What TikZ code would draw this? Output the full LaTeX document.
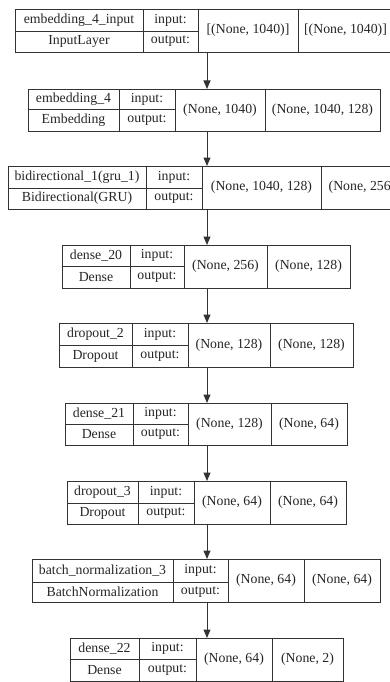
\documentclass[tikz,border=0pt]{standalone}
\usepackage{fontspec}
\setmainfont{Liberation Serif}
\usetikzlibrary{arrows.meta}

\begin{document}
\begin{tikzpicture}[x=1pt, y=-1pt,
  cell/.style={draw=black!80, line width=0.9pt, inner sep=0pt, outer sep=0pt,
    text=black!85, font=\fontsize{13.8}{16}\selectfont},
  record/.style={inner sep=0pt, outer sep=0pt},
  flow/.style={draw=black!80, line width=1pt,
    -{Triangle[length=8.5pt, width=7pt]}}
]
\clip (0,0) rectangle (390,682);
\fill[white] (0,0) rectangle (390,682);

% each layer: name / top / middle / bottom / five x edges / name / class / in shape / out shape
\foreach \n/\yt/\ym/\yb/\xa/\xb/\xc/\xd/\xe/\ta/\tb/\tc/\td in {
  L1/9/31/52/15/143/198/298/393/{embedding\_4\_input}/{InputLayer}/{[(None, 1040)]}/{[(None, 1040)]},
  L2/89/109/131/28/119/175/265/380/{embedding\_4}/{Embedding}/{(None, 1040)}/{(None, 1040, 128)},
  L3/166/188/209/8/146/202/321/403/{bidirectional\_1(gru\_1)}/{Bidirectional(GRU)}/{(None, 1040, 128)}/{(None, 256)},
  L4/245/266/288/62/130/184/267/350/{dense\_20}/{Dense}/{(None, 256)}/{(None, 128)},
  L5/323/345/367/59/132/188/270/353/{dropout\_2}/{Dropout}/{(None, 128)}/{(None, 128)},
  L6/403/424/445/65/133/188/271/347/{dense\_21}/{Dense}/{(None, 128)}/{(None, 64)},
  L7/481/503/524/67/138/194/270/346/{dropout\_3}/{Dropout}/{(None, 64)}/{(None, 64)},
  L8/559/582/602/32/173/228/304/380/{batch\_normalization\_3}/{BatchNormalization}/{(None, 64)}/{(None, 64)},
  L9/638/659/681/70/139/196/272/343/{dense\_22}/{Dense}/{(None, 64)}/{(None, 2)}%
}{
  % whole record, used as the anchor for the connectors
  \node[record, minimum width={(\xe-\xa)*1pt}, minimum height={(\yb-\yt)*1pt}]
    (\n) at ({(\xa+\xe)/2},{(\yt+\yb)/2}) {};
  % layer name and class
  \node[cell, minimum width={(\xb-\xa)*1pt}, minimum height={(\ym-\yt)*1pt}]
    (\n-name) at ({(\xa+\xb)/2},{(\yt+\ym)/2}) {\ta};
  \node[cell, minimum width={(\xb-\xa)*1pt}, minimum height={(\yb-\ym)*1pt}]
    (\n-class) at ({(\xa+\xb)/2},{(\ym+\yb)/2}) {\tb};
  % port labels
  \node[cell, minimum width={(\xc-\xb)*1pt}, minimum height={(\ym-\yt)*1pt}]
    (\n-inlbl) at ({(\xb+\xc)/2},{(\yt+\ym)/2}) {input:};
  \node[cell, minimum width={(\xc-\xb)*1pt}, minimum height={(\yb-\ym)*1pt}]
    (\n-outlbl) at ({(\xb+\xc)/2},{(\ym+\yb)/2}) {output:};
  % shapes
  \node[cell, minimum width={(\xd-\xc)*1pt}, minimum height={(\yb-\yt)*1pt}]
    (\n-in) at ({(\xc+\xd)/2},{(\yt+\yb)/2}) {\tc};
  \node[cell, minimum width={(\xe-\xd)*1pt}, minimum height={(\yb-\yt)*1pt}]
    (\n-out) at ({(\xd+\xe)/2},{(\yt+\yb)/2}) {\td};
}

% vertical axis of the connectors
\coordinate (ax) at (207,0);
\foreach \a/\b in {L1/L2, L2/L3, L3/L4, L4/L5, L5/L6, L6/L7, L7/L8, L8/L9}{
  \draw[flow] (\a.south -| ax) -- (\b.north -| ax);
}
\end{tikzpicture}
\end{document}
